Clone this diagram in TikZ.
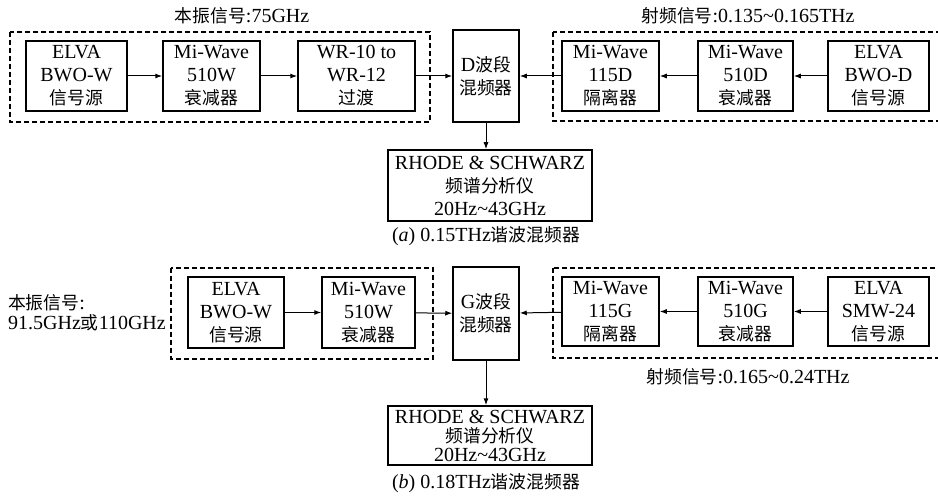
\documentclass[tikz,border=0pt]{standalone}
\usepackage{fontspec}
\setmainfont{Liberation Serif}
\newfontfamily\cjk{Noto Sans CJK SC}[Scale=0.89]
\newcommand{\zh}[1]{{\cjk #1}}
\usetikzlibrary{arrows.meta}
\tikzset{
  blk/.style={draw,line width=1.5pt,align=center,inner sep=0pt,
    font=\fontsize{20}{23}\selectfont},
  grp/.style={line width=1.3pt,dash pattern=on 5pt off 3pt},
  sig/.style={-{Latex[length=7pt,width=5pt]},line width=1pt},
  lbl/.style={inner sep=0pt,font=\fontsize{20}{23}\selectfont}
}
\begin{document}
\begin{tikzpicture}[x=1pt,y=-1pt]
\useasboundingbox (0,0) rectangle (938,497);
% (a) upper chain
\draw[grp] (10,32) rectangle (430,122);
\draw[grp] (553,32) rectangle (950,121);
\node[lbl] (loA) at (242,16) {\zh{本振信号}:75GHz};
\node[lbl] (rfA) at (748,16) {\zh{射频信号}:0.135\textasciitilde0.165THz};
\node[blk,minimum width=101pt,minimum height=70pt] (elvaW) at (76.5,76) {ELVA\\BWO-W\\\zh{信号源}};
\node[blk,minimum width=97pt,minimum height=70pt] (attW) at (211.5,76) {Mi-Wave\\510W\\\zh{衰减器}};
\node[blk,minimum width=117pt,minimum height=70pt] (wr) at (356.5,76) {WR-10 to\\WR-12\\\zh{过渡}};
\node[blk,minimum width=66pt,minimum height=92pt] (mixD) at (486,76) {D\zh{波段}\\\zh{混频器}};
\node[blk,minimum width=97pt,minimum height=70pt] (isoD) at (610.5,76) {Mi-Wave\\115D\\\zh{隔离器}};
\node[blk,minimum width=95pt,minimum height=70pt] (attD) at (745.5,76) {Mi-Wave\\510D\\\zh{衰减器}};
\node[blk,minimum width=101pt,minimum height=70pt] (elvaD) at (878.5,76) {ELVA\\BWO-D\\\zh{信号源}};
\node[blk,minimum width=204pt,minimum height=71pt] (saA) at (490,185.5) {RHODE \& SCHWARZ\\\zh{频谱分析仪}\\20Hz\textasciitilde43GHz};
\node[lbl] (capA) at (486,236) {(\textit{a}) 0.15THz\zh{谐波混频器}};
\draw[sig] (elvaW) -- (attW);
\draw[sig] (attW) -- (wr);
\draw[sig] (wr) -- (mixD);
\draw[sig] (elvaD) -- (attD);
\draw[sig] (attD) -- (isoD);
\draw[sig] (isoD) -- (mixD);
\draw[sig] (mixD.south) -- (mixD.south |- saA.north);
% (b) lower chain
\draw[grp] (171,268) rectangle (433,359);
\draw[grp] (553,268) rectangle (950,358);
\node[lbl,anchor=west,align=left] (loB) at (8,313) {\zh{本振信号}:\\[-3pt]91.5GHz\zh{或}110GHz};
\node[lbl] (rfB) at (748,377) {\zh{射频信号}:0.165\textasciitilde0.24THz};
\node[blk,minimum width=96pt,minimum height=71pt] (elvaW2) at (236,312.5) {ELVA\\BWO-W\\\zh{信号源}};
\node[blk,minimum width=93pt,minimum height=71pt] (attW2) at (368.5,312.5) {Mi-Wave\\510W\\\zh{衰减器}};
\node[blk,minimum width=66pt,minimum height=93pt] (mixG) at (486,313.5) {G\zh{波段}\\\zh{混频器}};
\node[blk,minimum width=97pt,minimum height=69pt] (isoG) at (610.5,311.5) {Mi-Wave\\115G\\\zh{隔离器}};
\node[blk,minimum width=95pt,minimum height=69pt] (attG) at (745.5,311.5) {Mi-Wave\\510G\\\zh{衰减器}};
\node[blk,minimum width=101pt,minimum height=69pt] (smw) at (878.5,311.5) {ELVA\\SMW-24\\\zh{信号源}};
\node[blk,minimum width=204pt,minimum height=59pt,font=\fontsize{20}{19}\selectfont] (saB) at (490,435.5) {RHODE \& SCHWARZ\\\zh{频谱分析仪}\\20Hz\textasciitilde43GHz};
\node[lbl] (capB) at (486,483) {(\textit{b}) 0.18THz\zh{谐波混频器}};
\draw[sig] (elvaW2) -- (attW2);
\draw[sig] (attW2) -- (mixG);
\draw[sig] (smw) -- (attG);
\draw[sig] (attG) -- (isoG);
\draw[sig] (isoG) -- (mixG);
\draw[sig] (mixG.south) -- (mixG.south |- saB.north);
\end{tikzpicture}
\end{document}
